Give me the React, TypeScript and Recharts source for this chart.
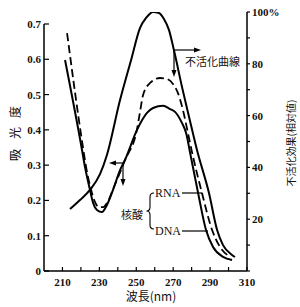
import React from "react";
import { LineChart, Line, XAxis, YAxis, ReferenceLine } from "recharts";

// 不活化曲線 (right axis, %)
const inactWave = [214.1, 219.5, 224.9, 230.4, 234.1, 241.2, 247.2, 252.0, 255.3, 259.1, 262.3, 265.0, 267.7, 270.4, 274.8, 278.6, 282.9, 289.4, 293.8, 297.0, 301.9, 303.5];
const inactPct = [23.9, 27.4, 31.3, 37.5, 44.8, 66.0, 81.5, 93.8, 97.7, 100, 99.6, 97.3, 93.1, 85.3, 71.0, 59.5, 46.7, 30.1, 15.8, 10.0, 6.2, 5.4];

// DNA absorbance (solid)
const dnaWave = [211.4, 220.6, 222.2, 224.9, 226.6, 228.7, 231.4, 234.1, 237.4, 241.2, 243.9, 250.4, 255.8, 259.1, 264.5, 268.3, 271.0, 274.8, 277.0, 279.1, 283.5, 287.8, 291.6, 297.0, 301.9];
const dnaAbs = [0.598, 0.343, 0.295, 0.23, 0.193, 0.173, 0.167, 0.187, 0.23, 0.286, 0.315, 0.4, 0.448, 0.462, 0.468, 0.459, 0.451, 0.419, 0.391, 0.337, 0.221, 0.116, 0.068, 0.04, 0.031];

// RNA absorbance (dashed)
const rnaWave = [212.5, 221.1, 222.8, 225.5, 227.6, 229.8, 232.0, 234.7, 237.9, 241.7, 243.9, 250.4, 252.0, 253.7, 257.5, 262.9, 266.7, 269.9, 272.6, 275.3, 278.0, 280.2, 285.6, 291.1, 295.4, 300.8];
const rnaAbs = [0.674, 0.351, 0.295, 0.23, 0.196, 0.181, 0.181, 0.198, 0.238, 0.286, 0.315, 0.402, 0.45, 0.499, 0.533, 0.547, 0.544, 0.53, 0.504, 0.456, 0.391, 0.337, 0.221, 0.116, 0.068, 0.04];

const xTicks = [210, 220, 230, 240, 250, 260, 270, 280, 290, 300, 310];
const xLabels = [210, 230, 250, 270, 290, 310];
const absTicks = [0, 0.1, 0.2, 0.3, 0.4, 0.5, 0.6, 0.7];
const pctTicks = [0, 10, 20, 30, 40, 50, 60, 70, 80, 90, 100];
const pctLabels = [20, 40, 60, 80];

const rows = (xs: number[], ys: number[]) => xs.map((x, i) => ({ x, y: ys[i] }));
const inactData = rows(inactWave, inactPct);
const dnaData = rows(dnaWave, dnaAbs);
const rnaData = rows(rnaWave, rnaAbs);

const NUM_FONT = "'Liberation Serif', serif";
const CJK_FONT = "'Noto Sans CJK JP', sans-serif";

const XTick = (props: any) => {
  const { x, y, payload } = props;
  const v = payload.value;
  return (
    <g>
      <line x1={x} x2={x} y1={y} y2={y - 4} stroke="#000" strokeWidth={1.2} />
      {xLabels.includes(v) && (
        <text x={x} y={y + 15} textAnchor="middle" fontSize={11} fontWeight="bold" fontFamily={NUM_FONT} fill="#111">
          {v}
        </text>
      )}
    </g>
  );
};

const LTick = (props: any) => {
  const { x, y, payload } = props;
  const v = payload.value;
  return (
    <g>
      <line x1={x} x2={x + 5} y1={y} y2={y} stroke="#000" strokeWidth={1.2} />
      <text x={x - 3} y={y} dy={4} textAnchor="end" fontSize={11} fontWeight="bold" fontFamily={NUM_FONT} fill="#111">
        {v === 0 ? "0" : v.toFixed(1)}
      </text>
    </g>
  );
};

const RTick = (props: any) => {
  const { x, y, payload } = props;
  const v = payload.value;
  let label = "";
  if (v === 100) label = "100%";
  else if (pctLabels.includes(v)) label = String(v);
  return (
    <text x={x} y={y} dy={4} textAnchor="start" fontSize={11} fontWeight="bold" fontFamily={NUM_FONT} fill="#111">
      {label}
    </text>
  );
};

export default function App() {
  return (
    <div style={{ position: "absolute", left: 0, top: 0, width: 300, height: 307, background: "#fff" }}>
      <LineChart width={300} height={307} margin={{ top: 12, right: 0, bottom: 0, left: 0 }}>
        <XAxis
          xAxisId={0}
          type="number"
          dataKey="x"
          domain={[200, 310]}
          ticks={xTicks}
          interval={0}
          height={36}
          tickSize={0}
          tickMargin={0}
          tick={<XTick />}
          axisLine={{ stroke: "#000", strokeWidth: 1.5 }}
          allowDataOverflow
        />
        <YAxis
          yAxisId="left"
          orientation="left"
          type="number"
          domain={[0, 0.734]}
          ticks={absTicks}
          interval={0}
          width={44}
          tickSize={0}
          tickMargin={0}
          tick={<LTick />}
          axisLine={false}
          allowDataOverflow
        />
        <YAxis
          yAxisId="right"
          orientation="right"
          type="number"
          domain={[0, 100]}
          ticks={pctTicks}
          interval={0}
          width={53}
          tickSize={3}
          tickMargin={2}
          tick={<RTick />}
          tickLine={{ stroke: "#000", strokeWidth: 1.2 }}
          axisLine={{ stroke: "#000", strokeWidth: 1.5 }}
          allowDataOverflow
        />
        <ReferenceLine
          yAxisId="left"
          segment={[{ x: 200, y: 0 }, { x: 200, y: 0.7 }]}
          stroke="#000"
          strokeWidth={1.5}
        />
        <Line yAxisId="right" data={inactData} dataKey="y" type="monotone" stroke="#000" strokeWidth={2} dot={false} isAnimationActive={false} />
        <Line yAxisId="left" data={dnaData} dataKey="y" type="monotone" stroke="#000" strokeWidth={2} dot={false} isAnimationActive={false} />
        <Line yAxisId="left" data={rnaData} dataKey="y" type="monotone" stroke="#000" strokeWidth={1.8} strokeDasharray="8 4" dot={false} isAnimationActive={false} />
      </LineChart>
      <svg width={300} height={307} style={{ position: "absolute", left: 0, top: 0, pointerEvents: "none" }}>
        {/* 不活化曲線 arrows */}
        <line x1={174} y1={50} x2={196} y2={50} stroke="#000" strokeWidth={1.2} />
        <polygon points="201,50 194,47.5 194,52.5" fill="#000" />
        <line x1={174} y1={50} x2={174} y2={72} stroke="#000" strokeWidth={1.2} />
        <polygon points="174,77 171.5,70 176.5,70" fill="#000" />
        <text x={185} y={66} fontSize={11} fontFamily={CJK_FONT} fill="#111">不活化曲線</text>

        {/* absorbance arrows */}
        <line x1={123} y1={163} x2={114} y2={163} stroke="#000" strokeWidth={1.2} />
        <polygon points="109,163 116,160.5 116,165.5" fill="#000" />
        <line x1={123} y1={163} x2={123} y2={181} stroke="#000" strokeWidth={1.2} />
        <polygon points="123,186 120.5,179 125.5,179" fill="#000" />

        {/* nucleic acid bracket */}
        <text x={121} y={219} fontSize={11} fontFamily={CJK_FONT} fill="#111">核酸</text>
        <path d="M154 193 Q150 193 150 197 L150 207 Q150 211 146.5 211 Q150 211 150 215 L150 225 Q150 229 154 229" fill="none" stroke="#000" strokeWidth={1.1} />
        <text x={155} y={197} fontSize={12} fontFamily={NUM_FONT} fill="#111">RNA</text>
        <line x1={182} y1={193} x2={202} y2={193} stroke="#000" strokeWidth={1.2} />
        <text x={155} y={235} fontSize={12} fontFamily={NUM_FONT} fill="#111">DNA</text>
        <line x1={182} y1={231} x2={208} y2={231} stroke="#000" strokeWidth={1.2} />

        {/* axis titles */}
        <text x={151} y={301} textAnchor="middle" fontSize={12} fontFamily={CJK_FONT} fill="#111">波長(nm)</text>
        <text x={14} y={155} textAnchor="middle" dominantBaseline="central" fontSize={12} fontFamily={CJK_FONT} fill="#111" transform="rotate(-90 14 155)">吸</text>
        <text x={14} y={133} textAnchor="middle" dominantBaseline="central" fontSize={12} fontFamily={CJK_FONT} fill="#111" transform="rotate(-90 14 133)">光</text>
        <text x={14} y={112} textAnchor="middle" dominantBaseline="central" fontSize={12} fontFamily={CJK_FONT} fill="#111" transform="rotate(-90 14 112)">度</text>
        <text x={290} y={143} textAnchor="middle" dominantBaseline="central" fontSize={10} fontFamily={CJK_FONT} fill="#111" transform="rotate(-90 290 143)">不活化効果(相対値)</text>
      </svg>
    </div>
  );
}
